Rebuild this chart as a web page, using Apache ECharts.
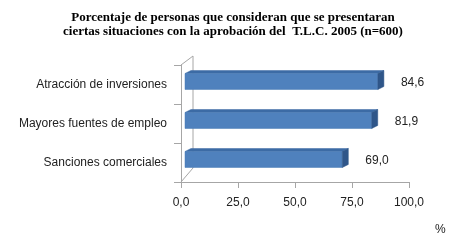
<!DOCTYPE html>
<html>
<head>
<meta charset="utf-8">
<script src="https://cdn.jsdelivr.net/npm/echarts@6/dist/echarts.min.js"></script>
<style>html,body{margin:0;padding:0;background:#fff}#c{width:450px;height:244px}</style>
</head>
<body>
<div id="c"></div>
<script>
const titleLines = ["Porcentaje de personas que consideran que se presentaran", "ciertas situaciones con la aprobación del  T.L.C. 2005 (n=600)"];
const categories = ["Atracción de inversiones", "Mayores fuentes de empleo", "Sanciones comerciales"];
const values = [84.6, 81.9, 69.0];
const xTicks = [0, 25, 50, 75, 100];
const unitLabel = "%";

const L = 181, R = 41, T = 65, B = 62, H = 244;
const chart = echarts.init(document.getElementById('c'), null, {renderer: 'canvas'});
const fmt = v => v.toFixed(1).replace('.', ',');
const axisCol = '#A6A6A6';

chart.setOption({
  animation: false,
  backgroundColor: '#fff',
  title: {
    text: titleLines.join('\n'),
    left: 228, textAlign: 'center', top: 6,
    textStyle: {fontFamily: 'Liberation Serif', fontWeight: 'bold', fontSize: 13, lineHeight: 14, color: '#000'}
  },
  grid: {left: L, right: R, top: T, bottom: B, containLabel: false},
  xAxis: {
    type: 'value', min: xTicks[0], max: xTicks[xTicks.length - 1], interval: 25,
    splitLine: {show: false},
    axisLine: {show: true, lineStyle: {color: axisCol}},
    axisTick: {show: true, length: 6, lineStyle: {color: axisCol}},
    axisLabel: {margin: 15, fontFamily: 'Liberation Sans', fontSize: 12, color: '#222', formatter: v => fmt(v)}
  },
  yAxis: {
    type: 'category', data: categories, inverse: true,
    axisLine: {show: true, lineStyle: {color: axisCol}},
    axisTick: {show: true, length: 7, lineStyle: {color: axisCol}},
    axisLabel: {margin: 14, fontFamily: 'Liberation Sans', fontSize: 12, color: '#222'}
  },
  graphic: [
    {type: 'polyline', shape: {points: [[L, T], [L + 12, T - 9], [L + 12, H - B - 14], [L, H - B]]}, style: {stroke: axisCol, fill: null, lineWidth: 1}, silent: true},
    {type: 'text', left: 435, top: 224, style: {text: unitLabel, fontFamily: 'Liberation Sans', fontSize: 12, fill: '#222'}}
  ],
  series: [{
    type: 'custom',
    data: values.map((v, i) => [v, i]),
    encode: {x: 0, y: 1},
    renderItem: function (params, api) {
      const v = api.value(0), ci = api.value(1);
      const p0 = api.coord([0, ci]);
      const p1 = api.coord([v, ci]);
      const bh = api.size([0, 1])[1] * 0.41;
      const x = p0[0] + 4, y = p0[1] - 3 - bh / 2, w = p1[0] - p0[0], h = bh;
      const dx = 6, dy = -3;
      return {
        type: 'group',
        children: [
          {type: 'polygon', shape: {points: [[x, y], [x + dx, y + dy], [x + w + dx, y + dy], [x + w, y]]}, style: {fill: '#3C6BA5', stroke: '#3C6BA5', lineWidth: 0.5}},
          {type: 'rect', shape: {x: x, y: y, width: w, height: h}, style: {fill: '#4F81BD', stroke: '#4A7AB4', lineWidth: 0.5}},
          {type: 'polygon', shape: {points: [[x + w, y], [x + w + dx, y + dy], [x + w + dx, y + h + dy], [x + w, y + h]]}, style: {fill: '#2F5689', stroke: '#2F5689', lineWidth: 0.5}},
          {type: 'text', style: {text: fmt(v), x: x + w + dx + 17, y: y + h / 2 + 1, textVerticalAlign: 'middle', textAlign: 'left', fontFamily: 'Liberation Sans', fontSize: 12, fill: '#222'}}
        ]
      };
    }
  }]
});
</script>
</body>
</html>
